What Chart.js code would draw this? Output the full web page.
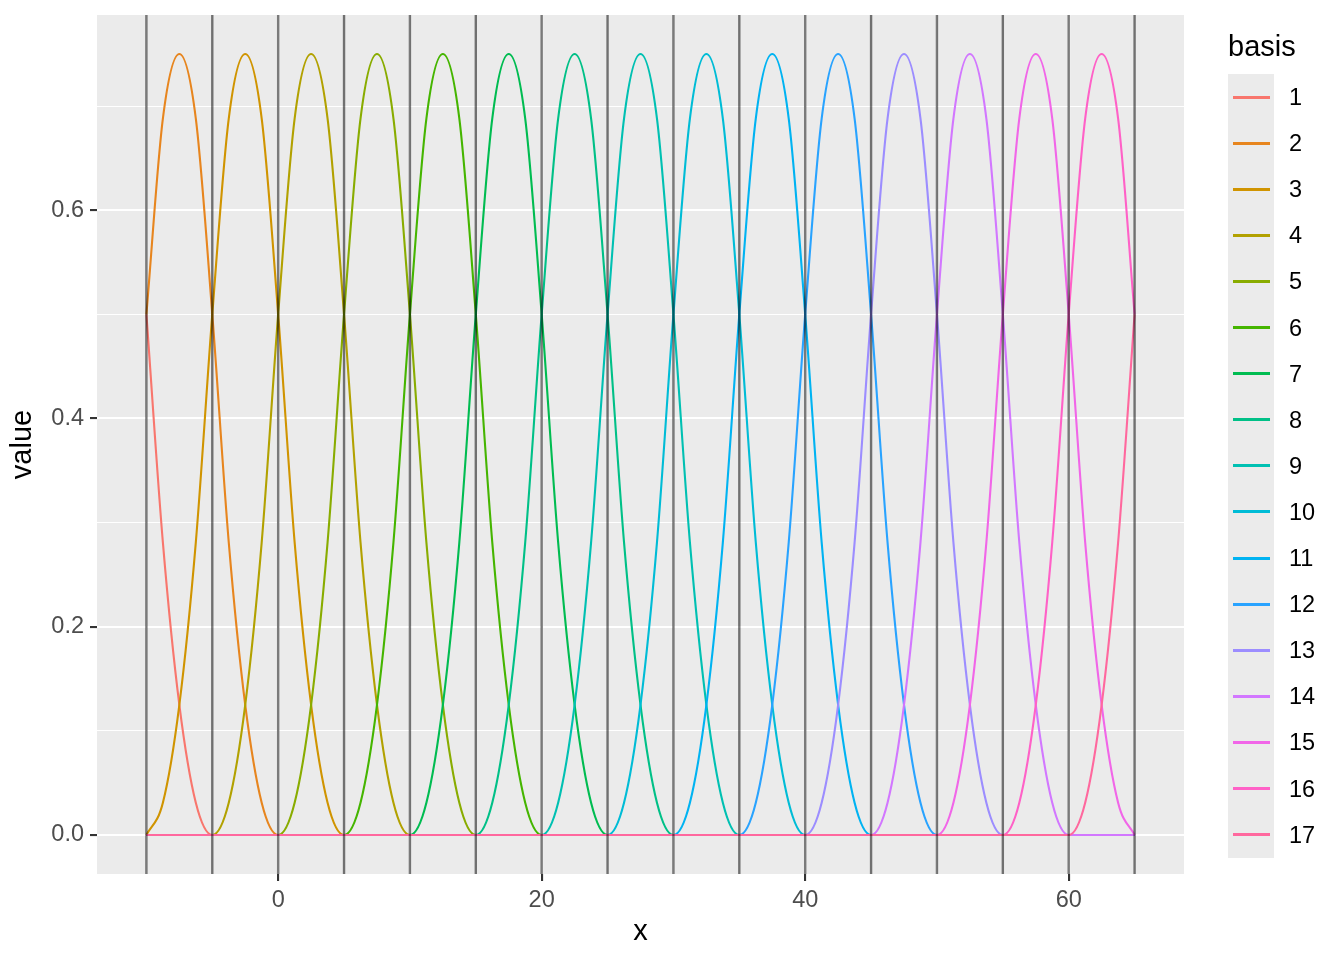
<!DOCTYPE html>
<html>
<head>
<meta charset="utf-8">
<script src="https://cdn.jsdelivr.net/npm/chart.js@4.4.1/dist/chart.umd.min.js"></script>
<style>
  html, body { margin: 0; padding: 0; background: #fff; }
  #wrap { position: relative; width: 1344px; height: 960px; font-family: "Liberation Sans", Arial, sans-serif; }
  #plot { position: absolute; left: 0; top: 0; }
  #legend-title { position: absolute; left: 1228px; top: 32px; font-size: 29px; line-height: 29px; color: #000; }
  #legend-keys { position: absolute; left: 1228px; top: 74px; width: 46px; height: 784px; background: #ebebeb; }
  .leg-item { position: absolute; left: 1228px; height: 46px; display: flex; align-items: center; }
  .leg-line { width: 37px; height: 3px; margin-left: 5px; }
  .leg-label { position: absolute; left: 61px; font-size: 23.5px; line-height: 46px; color: #000; white-space: nowrap; }
</style>
</head>
<body>
<div id="wrap">
  <canvas id="plot" width="1344" height="960"></canvas>
  <div id="legend-title">basis</div>
  <div id="legend-keys"></div>
  <div id="legend-items"></div>
</div>
<script>
// ── Data ──────────────────────────────────────────────────────────────────────
// x grid, step 1.25 from -10 to 65 (four points per knot interval)
const xs = [
  -10, -8.75, -7.5, -6.25,   -5, -3.75, -2.5, -1.25,   0, 1.25, 2.5, 3.75,   5, 6.25, 7.5, 8.75,
  10, 11.25, 12.5, 13.75,    15, 16.25, 17.5, 18.75,   20, 21.25, 22.5, 23.75,   25, 26.25, 27.5, 28.75,
  30, 31.25, 32.5, 33.75,    35, 36.25, 37.5, 38.75,   40, 41.25, 42.5, 43.75,   45, 46.25, 47.5, 48.75,
  50, 51.25, 52.5, 53.75,    55, 56.25, 57.5, 58.75,   60, 61.25, 62.5, 63.75,   65
];

// basis values, one group of four per knot interval
const basis1  = [.5,.281,.125,.031, 0,0,0,0, 0,0,0,0, 0,0,0,0, 0,0,0,0, 0,0,0,0, 0,0,0,0, 0,0,0,0, 0,0,0,0, 0,0,0,0, 0,0,0,0, 0,0,0,0, 0,0,0,0, 0,0,0,0, 0,0,0,0, 0];
const basis2  = [.5,.688,.75,.688, .5,.281,.125,.031, 0,0,0,0, 0,0,0,0, 0,0,0,0, 0,0,0,0, 0,0,0,0, 0,0,0,0, 0,0,0,0, 0,0,0,0, 0,0,0,0, 0,0,0,0, 0,0,0,0, 0,0,0,0, 0,0,0,0, 0];
const basis3  = [0,.031,.125,.281, .5,.688,.75,.688, .5,.281,.125,.031, 0,0,0,0, 0,0,0,0, 0,0,0,0, 0,0,0,0, 0,0,0,0, 0,0,0,0, 0,0,0,0, 0,0,0,0, 0,0,0,0, 0,0,0,0, 0,0,0,0, 0,0,0,0, 0];
const basis4  = [0,0,0,0, 0,.031,.125,.281, .5,.688,.75,.688, .5,.281,.125,.031, 0,0,0,0, 0,0,0,0, 0,0,0,0, 0,0,0,0, 0,0,0,0, 0,0,0,0, 0,0,0,0, 0,0,0,0, 0,0,0,0, 0,0,0,0, 0,0,0,0, 0];
const basis5  = [0,0,0,0, 0,0,0,0, 0,.031,.125,.281, .5,.688,.75,.688, .5,.281,.125,.031, 0,0,0,0, 0,0,0,0, 0,0,0,0, 0,0,0,0, 0,0,0,0, 0,0,0,0, 0,0,0,0, 0,0,0,0, 0,0,0,0, 0,0,0,0, 0];
const basis6  = [0,0,0,0, 0,0,0,0, 0,0,0,0, 0,.031,.125,.281, .5,.688,.75,.688, .5,.281,.125,.031, 0,0,0,0, 0,0,0,0, 0,0,0,0, 0,0,0,0, 0,0,0,0, 0,0,0,0, 0,0,0,0, 0,0,0,0, 0,0,0,0, 0];
const basis7  = [0,0,0,0, 0,0,0,0, 0,0,0,0, 0,0,0,0, 0,.031,.125,.281, .5,.688,.75,.688, .5,.281,.125,.031, 0,0,0,0, 0,0,0,0, 0,0,0,0, 0,0,0,0, 0,0,0,0, 0,0,0,0, 0,0,0,0, 0,0,0,0, 0];
const basis8  = [0,0,0,0, 0,0,0,0, 0,0,0,0, 0,0,0,0, 0,0,0,0, 0,.031,.125,.281, .5,.688,.75,.688, .5,.281,.125,.031, 0,0,0,0, 0,0,0,0, 0,0,0,0, 0,0,0,0, 0,0,0,0, 0,0,0,0, 0,0,0,0, 0];
const basis9  = [0,0,0,0, 0,0,0,0, 0,0,0,0, 0,0,0,0, 0,0,0,0, 0,0,0,0, 0,.031,.125,.281, .5,.688,.75,.688, .5,.281,.125,.031, 0,0,0,0, 0,0,0,0, 0,0,0,0, 0,0,0,0, 0,0,0,0, 0,0,0,0, 0];
const basis10 = [0,0,0,0, 0,0,0,0, 0,0,0,0, 0,0,0,0, 0,0,0,0, 0,0,0,0, 0,0,0,0, 0,.031,.125,.281, .5,.688,.75,.688, .5,.281,.125,.031, 0,0,0,0, 0,0,0,0, 0,0,0,0, 0,0,0,0, 0,0,0,0, 0];
const basis11 = [0,0,0,0, 0,0,0,0, 0,0,0,0, 0,0,0,0, 0,0,0,0, 0,0,0,0, 0,0,0,0, 0,0,0,0, 0,.031,.125,.281, .5,.688,.75,.688, .5,.281,.125,.031, 0,0,0,0, 0,0,0,0, 0,0,0,0, 0,0,0,0, 0];
const basis12 = [0,0,0,0, 0,0,0,0, 0,0,0,0, 0,0,0,0, 0,0,0,0, 0,0,0,0, 0,0,0,0, 0,0,0,0, 0,0,0,0, 0,.031,.125,.281, .5,.688,.75,.688, .5,.281,.125,.031, 0,0,0,0, 0,0,0,0, 0,0,0,0, 0];
const basis13 = [0,0,0,0, 0,0,0,0, 0,0,0,0, 0,0,0,0, 0,0,0,0, 0,0,0,0, 0,0,0,0, 0,0,0,0, 0,0,0,0, 0,0,0,0, 0,.031,.125,.281, .5,.688,.75,.688, .5,.281,.125,.031, 0,0,0,0, 0,0,0,0, 0];
const basis14 = [0,0,0,0, 0,0,0,0, 0,0,0,0, 0,0,0,0, 0,0,0,0, 0,0,0,0, 0,0,0,0, 0,0,0,0, 0,0,0,0, 0,0,0,0, 0,0,0,0, 0,.031,.125,.281, .5,.688,.75,.688, .5,.281,.125,.031, 0,0,0,0, 0];
const basis15 = [0,0,0,0, 0,0,0,0, 0,0,0,0, 0,0,0,0, 0,0,0,0, 0,0,0,0, 0,0,0,0, 0,0,0,0, 0,0,0,0, 0,0,0,0, 0,0,0,0, 0,0,0,0, 0,.031,.125,.281, .5,.688,.75,.688, .5,.281,.125,.031, 0];
const basis16 = [0,0,0,0, 0,0,0,0, 0,0,0,0, 0,0,0,0, 0,0,0,0, 0,0,0,0, 0,0,0,0, 0,0,0,0, 0,0,0,0, 0,0,0,0, 0,0,0,0, 0,0,0,0, 0,0,0,0, 0,.031,.125,.281, .5,.688,.75,.688, .5];
const basis17 = [0,0,0,0, 0,0,0,0, 0,0,0,0, 0,0,0,0, 0,0,0,0, 0,0,0,0, 0,0,0,0, 0,0,0,0, 0,0,0,0, 0,0,0,0, 0,0,0,0, 0,0,0,0, 0,0,0,0, 0,0,0,0, 0,.031,.125,.281, .5];

const basisNames = ["1","2","3","4","5","6","7","8","9","10","11","12","13","14","15","16","17"];
const basisSeries = [basis1, basis2, basis3, basis4, basis5, basis6, basis7, basis8, basis9,
                     basis10, basis11, basis12, basis13, basis14, basis15, basis16, basis17];

const knots   = [-10, -5, 0, 5, 10, 15, 20, 25, 30, 35, 40, 45, 50, 55, 60, 65];
const xTicks  = [-10, 0, 10, 20, 30, 40, 50, 60];       // minor + major
const xLabels = [0, 20, 40, 60];
const yTicks  = [0, 0.1, 0.2, 0.3, 0.4, 0.5, 0.6, 0.7];
const yLabels = [0, 0.2, 0.4, 0.6];

const X_MIN = -13.75, X_MAX = 68.75;
const Y_MIN = -0.0375, Y_MAX = 0.7875;

// ── ggplot-style hue palette (hcl, l=65, c=100) ──────────────────────────────
function hclHex(h, c, l) {
  const WU = 0.1978398, WV = 0.4683363, WY = 100;
  const hr = h * Math.PI / 180;
  const U = c * Math.cos(hr), V = c * Math.sin(hr);
  const Y = WY * (l > 7.999592 ? Math.pow((l + 16) / 116, 3) : l / 903.3);
  const u = U / (13 * l) + WU, v = V / (13 * l) + WV;
  const X = 9 * Y * u / (4 * v);
  const Z = -X / 3 - 5 * Y + 3 * Y / v;
  const gam = t => t > 0.00304 ? 1.055 * Math.pow(t, 1 / 2.4) - 0.055 : 12.92 * t;
  const ch = t => Math.round(Math.max(0, Math.min(1, gam(t))) * 255).toString(16).padStart(2, "0");
  const r = ( 3.240479 * X - 1.537150 * Y - 0.498535 * Z) / WY;
  const g = (-0.969256 * X + 1.875992 * Y + 0.041556 * Z) / WY;
  const b = ( 0.055648 * X - 0.204043 * Y + 1.057311 * Z) / WY;
  return "#" + ch(r) + ch(g) + ch(b);
}
const colors = basisNames.map((_, i) => hclHex(15 + 360 * i / basisNames.length, 100, 65));

// ── Datasets ─────────────────────────────────────────────────────────────────
const datasets = basisSeries.map((vals, i) => ({
  label: basisNames[i],
  data: xs.map((x, j) => ({ x, y: vals[j] })),
  borderColor: colors[i],
  borderWidth: 2.1,
  pointRadius: 0,
  cubicInterpolationMode: "monotone",
  fill: false,
  order: 100 - i,            // later bases drawn on top, as in ggplot
}));
knots.forEach(k => datasets.push({
  label: "knot " + k,
  data: [{ x: k, y: Y_MIN }, { x: k, y: Y_MAX }],
  borderColor: "rgba(0,0,0,0.52)",
  borderWidth: 2.4,
  pointRadius: 0,
  fill: false,
  order: 0,
}));

// panel background
const panelBg = {
  id: "panelBg",
  beforeDraw(chart) {
    const { ctx, chartArea: a } = chart;
    ctx.save();
    ctx.fillStyle = "#ebebeb";
    ctx.fillRect(a.left, a.top, a.right - a.left, a.bottom - a.top);
    ctx.restore();
  },
};

const FONT = "'Liberation Sans', Arial, sans-serif";

new Chart(document.getElementById("plot").getContext("2d"), {
  type: "line",
  data: { datasets },
  plugins: [panelBg],
  options: {
    responsive: false,
    animation: false,
    devicePixelRatio: 1,
    layout: { padding: { left: 0, top: 15, right: 160, bottom: 0 } },
    plugins: { legend: { display: false }, tooltip: { enabled: false } },
    scales: {
      x: {
        type: "linear",
        min: X_MIN, max: X_MAX,
        afterFit: s => { s.height = 86; s.paddingLeft = 0; s.paddingRight = 0; },
        afterBuildTicks: s => { s.ticks = xTicks.map(v => ({ value: v })); },
        border: { display: false },
        grid: {
          color: "#ffffff",
          lineWidth: c => xLabels.includes(c.tick.value) ? 2.1 : 1.1,
          tickColor: c => xLabels.includes(c.tick.value) ? "#333333" : "rgba(0,0,0,0)",
          tickWidth: 2.1,
          tickLength: 7,
        },
        ticks: {
          padding: 5,
          color: "#4d4d4d",
          font: { family: FONT, size: 23.5 },
          maxRotation: 0,
          autoSkip: false,
          callback: v => xLabels.includes(v) ? String(v) : "",
        },
        title: {
          display: true, text: "x", color: "#000",
          font: { family: FONT, size: 29 },
          padding: { top: 0, bottom: 11 },
        },
      },
      y: {
        type: "linear",
        min: Y_MIN, max: Y_MAX,
        afterFit: s => { s.width = 97; s.paddingTop = 0; s.paddingBottom = 0; },
        afterBuildTicks: s => { s.ticks = yTicks.map(v => ({ value: v })); },
        border: { display: false },
        grid: {
          color: "#ffffff",
          lineWidth: c => yLabels.includes(c.tick.value) ? 2.1 : 1.1,
          tickColor: c => yLabels.includes(c.tick.value) ? "#333333" : "rgba(0,0,0,0)",
          tickWidth: 2.1,
          tickLength: 7,
        },
        ticks: {
          padding: 6,
          color: "#4d4d4d",
          font: { family: FONT, size: 23.5 },
          autoSkip: false,
          callback: v => yLabels.includes(v) ? v.toFixed(1) : "",
        },
        title: {
          display: true, text: "value", color: "#000",
          font: { family: FONT, size: 29 },
          padding: { top: 6, bottom: 0 },
        },
      },
    },
  },
});

// ── Legend ───────────────────────────────────────────────────────────────────
document.getElementById("legend-items").innerHTML = basisNames.map((name, i) =>
  `<div class="leg-item" style="top:${74 + i * 46.1}px">` +
  `<div class="leg-line" style="background:${colors[i]}"></div>` +
  `<div class="leg-label">${name}</div></div>`
).join("");
</script>
</body>
</html>
